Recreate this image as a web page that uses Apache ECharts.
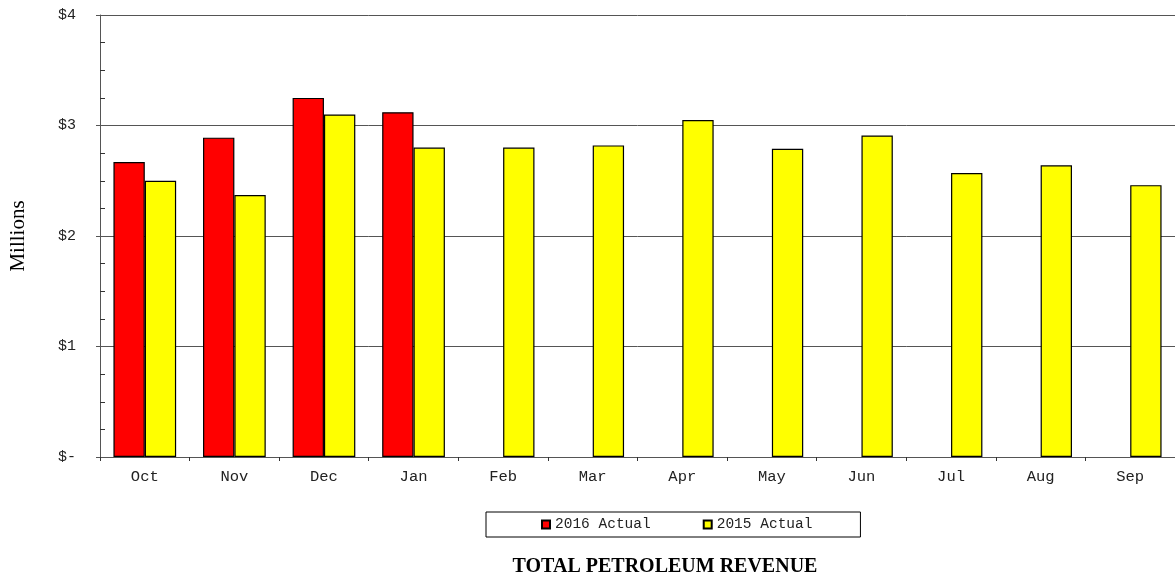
<!DOCTYPE html>
<html><head><meta charset="utf-8">
<script src="https://cdn.jsdelivr.net/npm/echarts@6/dist/echarts.min.js"></script>
<style>html,body{margin:0;padding:0;background:#fff}#c{width:1175px;height:576px}</style>
</head><body><div id="c"></div>
<script>
const categories = ['Oct','Nov','Dec','Jan','Feb','Mar','Apr','May','Jun','Jul','Aug','Sep'];
const actual2016 = [2.67, 2.89, 3.25, 3.12, null, null, null, null, null, null, null, null];
const actual2015 = [2.50, 2.37, 3.10, 2.80, 2.80, 2.82, 3.05, 2.79, 2.91, 2.57, 2.64, 2.46];
const yTickLabels = {0:'$-',1:'$1',2:'$2',3:'$3',4:'$4'};

const chart = echarts.init(document.getElementById('c'), null, {renderer:'canvas'});
const mono = '"Liberation Mono", "Courier New", monospace';
const serif = '"Liberation Serif", "Times New Roman", serif';
chart.setOption({
  animation:false,
  backgroundColor:'#fff',
  title:{
    text:'TOTAL PETROLEUM REVENUE', left:660, top:552, textAlign:'center',
    textStyle:{fontFamily:serif, fontWeight:'bold', fontSize:20, color:'#000'}
  },
  legend:{
    data:['2016 Actual','2015 Actual'],
    left:486, top:512,
    padding:[5,48,5,55], itemGap:52,
    borderColor:'#000', borderWidth:1,
    itemWidth:8, itemHeight:8, icon:'rect',
    textStyle:{fontFamily:mono, fontSize:14.5, color:'#222'}
  },
  grid:{left:100, right:0, top:15, bottom:119, outerBoundsMode:'none', containLabel:false},
  xAxis:{
    type:'category', data:categories,
    axisLine:{lineStyle:{color:'#555', width:1}},
    axisTick:{show:true, length:4, lineStyle:{color:'#333'}},
    axisLabel:{fontFamily:mono, fontSize:15.5, color:'#222', margin:12}
  },
  yAxis:[{
    type:'value', min:0, max:4, interval:1,
    name:'Millions', nameLocation:'middle', nameGap:71, nameRotate:90,
    nameTextStyle:{fontFamily:serif, fontSize:21, color:'#000'},
    axisLine:{show:true, lineStyle:{color:'#555'}},
    axisTick:{show:true, length:4, lineStyle:{color:'#555'}},
    axisLabel:{fontFamily:mono, fontSize:15, color:'#222', margin:24,
      formatter:v=>yTickLabels[v]},
    splitLine:{show:true, lineStyle:{color:'#555', width:1}}
  },{
    type:'value', min:0, max:4, interval:1, position:'left',
    axisLine:{show:false}, axisLabel:{show:false}, splitLine:{show:false},
    axisTick:{show:false, inside:true},
    minorTick:{show:true, splitNumber:4, length:5, lineStyle:{color:'#333'}}
  }],
  series:[{
    name:'2016 Actual', type:'bar', data:actual2016, barGap:'0%', barCategoryGap:'30%',
    itemStyle:{color:'#ff0000', borderColor:'#000', borderWidth:1.2}
  },{
    name:'2015 Actual', type:'bar', data:actual2015,
    itemStyle:{color:'#ffff00', borderColor:'#000', borderWidth:1.2}
  }]
});
</script></body></html>
